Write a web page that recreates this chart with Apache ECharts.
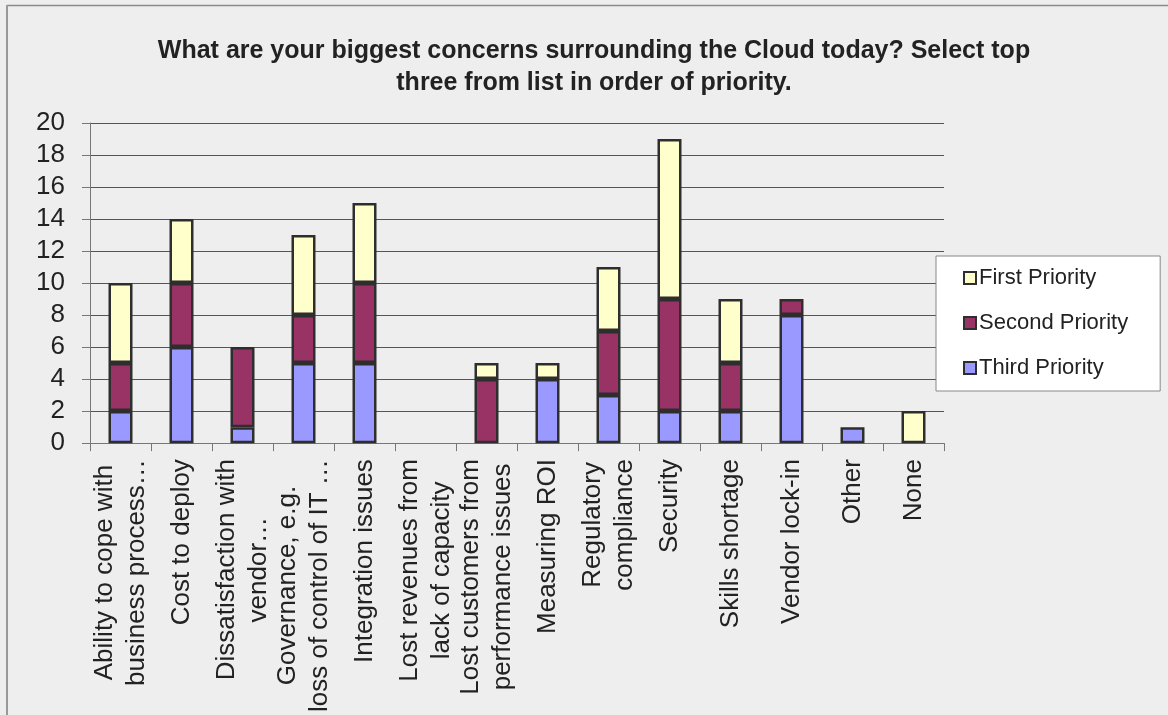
<!DOCTYPE html>
<html>
<head>
<meta charset="utf-8">
<script src="https://cdn.jsdelivr.net/npm/echarts@6/dist/echarts.min.js"></script>
<style>
html,body{margin:0;padding:0;background:#eeeeee;}
#chart{width:1168px;height:715px;}
</style>
</head>
<body>
<div id="chart"></div>
<script>
const categories = [
  "Ability to cope with\nbusiness process…",
  "Cost to deploy",
  "Dissatisfaction with\nvendor…",
  "Governance, e.g.\nloss of control of IT …",
  "Integration issues",
  "Lost revenues from\nlack of capacity",
  "Lost customers from\nperformance issues",
  "Measuring ROI",
  "Regulatory\ncompliance",
  "Security",
  "Skills shortage",
  "Vendor lock-in",
  "Other",
  "None"
];
const thirdPriority  = [2, 6, 1, 5, 5, 0, 0, 4, 3, 2, 2, 8, 1, 0];
const secondPriority = [3, 4, 5, 3, 5, 0, 4, 0, 4, 7, 3, 1, 0, 0];
const firstPriority  = [5, 4, 0, 5, 5, 0, 1, 1, 4, 10, 4, 0, 0, 2];
const yTicks = { min: 0, max: 20, interval: 2 };
const titleLines = [
  "What are your biggest concerns surrounding the Cloud today? Select top",
  "three from list in order of priority."
];

const FONT = "'Liberation Sans', Arial, sans-serif";
const chart = echarts.init(document.getElementById('chart'));

function series(name, data, color) {
  return {
    name: name,
    type: 'bar',
    stack: 'total',
    data: data.map(v => v === 0 ? null : v),
    barWidth: 24,
    itemStyle: { color: color, borderColor: '#2e2e2e', borderWidth: 2.5 },
    emphasis: { disabled: true }
  };
}

chart.setOption({
  backgroundColor: '#eeeeee',
  animation: false,
  graphic: [
    {
      type: 'line', silent: true,
      shape: { x1: 7, y1: 5.5, x2: 1168, y2: 5.5 },
      style: { stroke: '#8a8a8a', lineWidth: 1.5 }
    },
    {
      type: 'line', silent: true,
      shape: { x1: 7, y1: 5, x2: 7, y2: 715 },
      style: { stroke: '#999999', lineWidth: 2 }
    },
    {
      type: 'text', silent: true, x: 594, y: 35,
      style: {
        text: titleLines.join('\n'),
        textAlign: 'center', textVerticalAlign: 'top',
        font: "bold 25px 'Liberation Sans', Arial, sans-serif",
        lineHeight: 32, fill: '#222222'
      }
    }
  ],
  legend: {
    orient: 'vertical',
    left: 936, top: 256,
    data: ['First Priority', 'Second Priority', 'Third Priority'],
    backgroundColor: '#ffffff',
    borderColor: '#888888', borderWidth: 1, borderRadius: 0,
    padding: [11, 32, 12, 27],
    itemWidth: 12, itemHeight: 12, itemGap: 23,
    icon: 'rect',
    textStyle: { fontFamily: FONT, fontSize: 22, color: '#222222', padding: [0, 0, 0, -2] }
  },
  grid: { left: 90, right: 224, top: 123, bottom: 268, containLabel: false },
  xAxis: {
    type: 'category',
    data: categories,
    axisLine: { lineStyle: { color: '#777777', width: 1 } },
    axisTick: { show: true, length: 8, interval: 0, lineStyle: { color: '#777777' } },
    axisLabel: {
      interval: 0, rotate: 90, margin: 16,
      formatter: function (v) { return v.split('\n').map(l => '{c|' + l + '}').join('\n'); },
      rich: { c: { align: 'center', fontFamily: FONT, fontSize: 26, lineHeight: 32, color: '#222222' } }
    }
  },
  yAxis: {
    type: 'value',
    min: yTicks.min, max: yTicks.max, interval: yTicks.interval,
    axisLine: { show: true, lineStyle: { color: '#777777', width: 1 } },
    axisTick: { show: true, length: 8, lineStyle: { color: '#777777' } },
    axisLabel: { margin: 25, fontFamily: FONT, fontSize: 26, color: '#222222' },
    splitLine: { show: true, lineStyle: { color: '#555555', width: 1 } }
  },
  series: [
    series('Third Priority', thirdPriority, '#9999FF'),
    series('Second Priority', secondPriority, '#993366'),
    series('First Priority', firstPriority, '#FFFFCC')
  ]
});
</script>
</body>
</html>
